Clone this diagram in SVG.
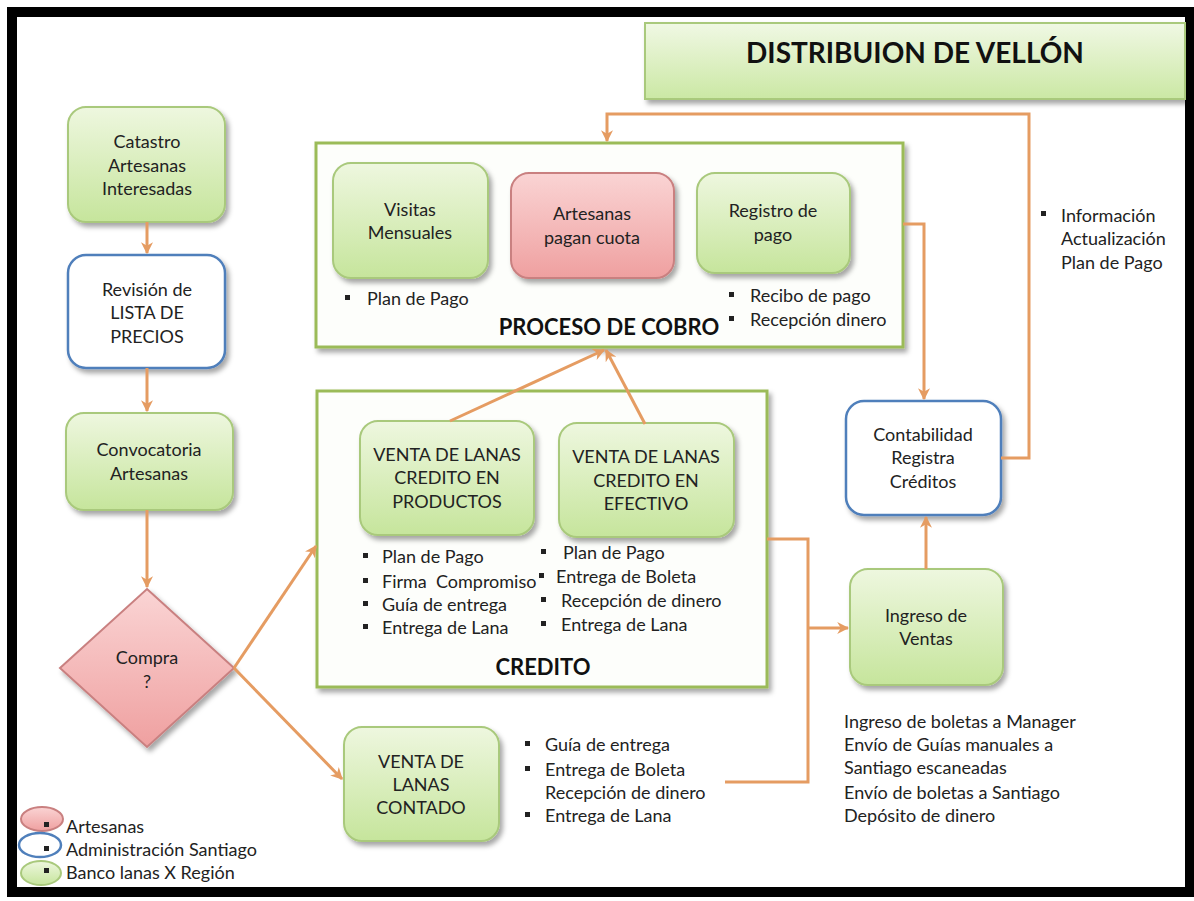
<svg xmlns="http://www.w3.org/2000/svg" width="1194" height="901" viewBox="0 0 1194 901">
<defs>
<linearGradient id="gGreen" x1="0" y1="0" x2="0" y2="1"><stop offset="0" stop-color="#eef7df"/><stop offset="1" stop-color="#c6e59c"/></linearGradient>
<linearGradient id="gPink" x1="0" y1="0" x2="0" y2="1"><stop offset="0" stop-color="#fad4d4"/><stop offset="1" stop-color="#efa0a0"/></linearGradient>
<linearGradient id="gTitle" x1="0" y1="0" x2="0" y2="1"><stop offset="0" stop-color="#f0f8e4"/><stop offset="1" stop-color="#cbe8a4"/></linearGradient>
<filter id="sh" x="-10%" y="-10%" width="130%" height="130%"><feDropShadow dx="3" dy="4" stdDeviation="2.5" flood-color="#000" flood-opacity="0.35"/></filter>
<marker id="arr" viewBox="0 0 10 10" refX="9" refY="5" markerWidth="4" markerHeight="4" orient="auto-start-reverse"><path d="M0,0 L10,5 L0,10 L3,5 z" fill="#e59c62"/></marker>
<style>
.t{font-family:Lato,"Open Sans","Liberation Sans",sans-serif;font-size:18px;fill:#222;text-anchor:middle}
.l{font-family:Lato,"Open Sans","Liberation Sans",sans-serif;font-size:18px;fill:#222}
.b{font-family:Lato,"Open Sans","Liberation Sans",sans-serif;font-size:22px;font-weight:bold;fill:#111;text-anchor:middle}
.green{fill:url(#gGreen);stroke:#a9c97c;stroke-width:2}
.pink{fill:url(#gPink);stroke:#c98080;stroke-width:2}
.blue{fill:#fff;stroke:#4f7fbb;stroke-width:2.5}
.cont{fill:#fdfefb;stroke:#9bbb59;stroke-width:3}
.c{fill:none;stroke:#e59c62;stroke-width:3}
.bul{fill:#222}
</style>
</defs>
<rect x="0" y="0" width="1194" height="901" fill="#fff"/>
<rect x="12" y="12" width="1178" height="880" fill="#fff" stroke="#000" stroke-width="10"/>

<g id="title">
<rect x="645" y="23" width="540" height="76" style="fill:url(#gTitle);stroke:#a9c97c;stroke-width:2" filter="url(#sh)"/>
<text x="915" y="63" class="b" style="font-size:28px">DISTRIBUION DE VELLÓN</text>
</g>

<g id="catastro">
<rect x="68" y="107" width="157" height="115" rx="18" class="green" filter="url(#sh)"/>
<text class="t" x="147" y="148">Catastro</text>
<text class="t" x="147" y="172">Artesanas</text>
<text class="t" x="147" y="195">Interesadas</text>
</g>

<g id="revision">
<rect x="68" y="255" width="157" height="113" rx="18" class="blue" filter="url(#sh)"/>
<text class="t" x="147" y="296">Revisión de</text>
<text class="t" x="147" y="319">LISTA DE</text>
<text class="t" x="147" y="343">PRECIOS</text>
</g>

<g id="convocatoria">
<rect x="66" y="413" width="167" height="97" rx="18" class="green" filter="url(#sh)"/>
<text class="t" x="149" y="456">Convocatoria</text>
<text class="t" x="149" y="480">Artesanas</text>
</g>

<g id="compra">
<polygon points="147,589 234,668 147,747 60,668" class="pink" filter="url(#sh)"/>
<text class="t" x="147" y="664">Compra</text>
<text class="t" x="147" y="688">?</text>
</g>

<g id="proceso-cobro">
<rect x="316" y="143" width="587" height="204" class="cont" filter="url(#sh)"/>
<text class="b" x="609" y="335">PROCESO DE COBRO</text>
<rect x="345" y="295" width="5" height="5" class="bul"/>
<text class="l" x="367" y="305">Plan de Pago</text>
<rect x="729" y="292" width="5" height="5" class="bul"/>
<text class="l" x="750" y="302">Recibo de pago</text>
<rect x="729" y="316" width="5" height="5" class="bul"/>
<text class="l" x="750" y="326">Recepción dinero</text>
</g>

<g id="visitas">
<rect x="333" y="163" width="155" height="115" rx="18" class="green" filter="url(#sh)"/>
<text class="t" x="410" y="216">Visitas</text>
<text class="t" x="410" y="239">Mensuales</text>
</g>

<g id="artesanas-pagan">
<rect x="511" y="173" width="163" height="105" rx="18" class="pink" filter="url(#sh)"/>
<text class="t" x="592" y="220">Artesanas</text>
<text class="t" x="592" y="244">pagan cuota</text>
</g>

<g id="registro">
<rect x="697" y="173" width="153" height="100" rx="18" class="green" filter="url(#sh)"/>
<text class="t" x="773" y="217">Registro de</text>
<text class="t" x="773" y="241">pago</text>
</g>

<g id="credito">
<rect x="317" y="391" width="450" height="296" class="cont" filter="url(#sh)"/>
<text class="b" x="543" y="675">CREDITO</text>
<rect x="363" y="553" width="5" height="5" class="bul"/>
<text class="l" x="382" y="563">Plan de Pago</text>
<rect x="363" y="578" width="5" height="5" class="bul"/>
<text class="l" x="382" y="588" xml:space="preserve">Firma  Compromiso</text>
<rect x="363" y="601" width="5" height="5" class="bul"/>
<text class="l" x="382" y="611">Guía de entrega</text>
<rect x="363" y="624" width="5" height="5" class="bul"/>
<text class="l" x="382" y="634">Entrega de Lana</text>
<rect x="541" y="549" width="5" height="5" class="bul"/>
<text class="l" x="563" y="559">Plan de Pago</text>
<rect x="539" y="573" width="5" height="5" class="bul"/>
<text class="l" x="556" y="583">Entrega de Boleta</text>
<rect x="541" y="597" width="5" height="5" class="bul"/>
<text class="l" x="561" y="607">Recepción de dinero</text>
<rect x="541" y="621" width="5" height="5" class="bul"/>
<text class="l" x="561" y="631">Entrega de Lana</text>
</g>

<g id="credito-productos">
<rect x="360" y="421" width="174" height="114" rx="18" class="green" filter="url(#sh)"/>
<text class="t" x="447" y="461">VENTA DE LANAS</text>
<text class="t" x="447" y="484">CREDITO EN</text>
<text class="t" x="447" y="508">PRODUCTOS</text>
</g>

<g id="credito-efectivo">
<rect x="559" y="423" width="175" height="114" rx="18" class="green" filter="url(#sh)"/>
<text class="t" x="646" y="463">VENTA DE LANAS</text>
<text class="t" x="646" y="487">CREDITO EN</text>
<text class="t" x="646" y="510">EFECTIVO</text>
</g>

<g id="contado">
<rect x="344" y="727" width="155" height="114" rx="18" class="green" filter="url(#sh)"/>
<text class="t" x="421" y="768">VENTA DE</text>
<text class="t" x="421" y="791">LANAS</text>
<text class="t" x="421" y="814">CONTADO</text>
<rect x="525" y="741" width="5" height="5" class="bul"/>
<text class="l" x="545" y="751">Guía de entrega</text>
<rect x="525" y="766" width="5" height="5" class="bul"/>
<text class="l" x="545" y="776">Entrega de Boleta</text>
<text class="l" x="545" y="799">Recepción de dinero</text>
<rect x="525" y="812" width="5" height="5" class="bul"/>
<text class="l" x="545" y="822">Entrega de Lana</text>
</g>

<g id="contabilidad">
<rect x="846" y="401" width="155" height="114" rx="18" class="blue" filter="url(#sh)"/>
<text class="t" x="923" y="441">Contabilidad</text>
<text class="t" x="923" y="464">Registra</text>
<text class="t" x="923" y="488">Créditos</text>
</g>

<g id="ingreso-ventas">
<rect x="850" y="569" width="153" height="116" rx="18" class="green" filter="url(#sh)"/>
<text class="t" x="926" y="622">Ingreso de</text>
<text class="t" x="926" y="645">Ventas</text>
<text class="l" x="844" y="728">Ingreso de boletas a Manager</text>
<text class="l" x="844" y="751">Envío de Guías manuales a</text>
<text class="l" x="844" y="774">Santiago escaneadas</text>
<text class="l" x="844" y="799">Envío de boletas a Santiago</text>
<text class="l" x="844" y="822">Depósito de dinero</text>
</g>

<g id="informacion">
<rect x="1041" y="211" width="5" height="5" class="bul"/>
<text class="l" x="1061" y="222">Información</text>
<text class="l" x="1061" y="245">Actualización</text>
<text class="l" x="1061" y="269">Plan de Pago</text>
</g>

<g id="legend">
<ellipse cx="42" cy="819" rx="21" ry="12" class="pink"/>
<ellipse cx="40" cy="845" rx="21" ry="12" class="blue"/>
<ellipse cx="41" cy="873" rx="20" ry="12" class="green"/>
<rect x="44" y="822" width="5" height="5" class="bul"/>
<rect x="44" y="846" width="5" height="5" class="bul"/>
<rect x="44" y="868" width="5" height="5" class="bul"/>
<text class="l" x="66" y="833">Artesanas</text>
<text class="l" x="66" y="856">Administración Santiago</text>
<text class="l" x="66" y="879">Banco lanas X Región</text>
</g>

<g id="connectors">
<path class="c" d="M147,222 V253" marker-end="url(#arr)"/>
<path class="c" d="M147,368 V411" marker-end="url(#arr)"/>
<path class="c" d="M147,510 V587" marker-end="url(#arr)"/>
<path class="c" d="M234,668 L316,546" marker-end="url(#arr)"/>
<path class="c" d="M234,668 L342,779" marker-end="url(#arr)"/>
<path class="c" d="M450,421 L604,350" marker-end="url(#arr)"/>
<path class="c" d="M645,424 L606,350" marker-end="url(#arr)"/>
<path class="c" d="M903,224 H924 V399" marker-end="url(#arr)"/>
<path class="c" d="M1001,458 H1029 V114 H607 V141" marker-end="url(#arr)"/>
<path class="c" d="M926,569 V517" marker-end="url(#arr)"/>
<path class="c" d="M767,539 H808 V782 H725"/>
<path class="c" d="M808,628 H848" marker-end="url(#arr)"/>
</g>
</svg>
